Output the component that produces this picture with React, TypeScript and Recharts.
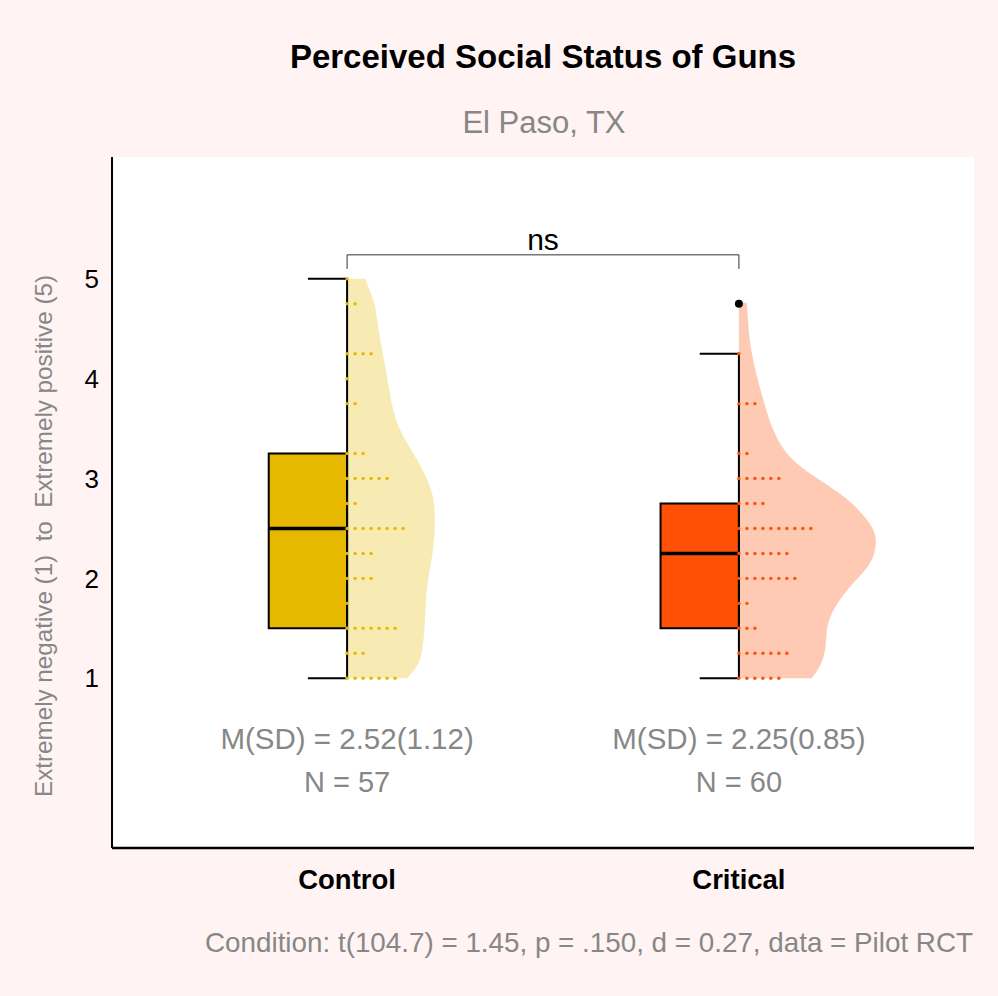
import React from 'react';
import {
  ComposedChart,
  Area,
  Scatter,
  XAxis,
  YAxis,
  CartesianGrid,
  ReferenceArea,
  ReferenceLine,
  ReferenceDot,
} from 'recharts';

const CATEGORIES = ['Control', 'Critical'];
const COLORS = ['#E6B800', '#FF5005'];
const Y_TICKS = [1, 2, 3, 4, 5];

// box plot stats per condition
const MINS = [1, 1];
const Q1S = [1.5, 1.5];
const MEDIANS = [2.5, 2.25];
const Q3S = [3.25, 2.75];
const MAXS = [5, 4.25];
const OUTLIERS = [[], [4.75]];

const MEANS = [2.52, 2.25];
const SDS = [1.12, 0.85];
const NS = [57, 60];

// dot plot: number of answers at each step of the scale
const LEVELS = [1, 1.25, 1.5, 1.75, 2, 2.25, 2.5, 2.75, 3, 3.25, 3.5, 3.75, 4, 4.25, 4.5, 4.75, 5];
const CONTROL_COUNTS = [7, 3, 7, 1, 4, 4, 8, 2, 6, 3, 0, 2, 1, 4, 0, 2, 1];
const CRITICAL_COUNTS = [6, 7, 3, 2, 8, 7, 10, 4, 6, 2, 0, 3, 0, 1, 0, 1, 0];

// half violin: width (x units) read at these heights
const VIOLIN_V = [1, 1.15, 1.35, 1.6, 1.9, 2.15, 2.4, 2.6, 2.85, 3.15, 3.45, 3.7, 3.95, 4.3, 4.6, 4.76, 5];
const CONTROL_WIDTH = [0.153, 0.182, 0.194, 0.199, 0.204, 0.214, 0.222, 0.224, 0.217, 0.184, 0.14, 0.117, 0.105, 0.089, 0.076, 0.069, 0.046];
const CRITICAL_WIDTH = [0.186, 0.21, 0.222, 0.232, 0.28, 0.334, 0.349, 0.324, 0.257, 0.148, 0.092, 0.069, 0.051, 0.031, 0.023, 0.02, null];

const DOT_STEP = 0.0204;
const GRAY = '#878787';

const violinData = VIOLIN_V.map((v, i) => ({
  v,
  control: CONTROL_WIDTH[i] == null ? null : [1, 1 + CONTROL_WIDTH[i]],
  critical: CRITICAL_WIDTH[i] == null ? null : [2, 2 + (CRITICAL_WIDTH[i] as number)],
}));

const buildDots = (counts: number[], pos: number) => {
  const out: { x: number; v: number }[] = [];
  counts.forEach((n, i) => {
    for (let k = 0; k < n; k++) out.push({ x: pos + k * DOT_STEP, v: LEVELS[i] });
  });
  return out;
};

const controlDots = buildDots(CONTROL_COUNTS, 1);
const criticalDots = buildDots(CRITICAL_COUNTS, 2);

const dotShape = (color: string) => (props: any) => (
  <circle cx={props.cx} cy={props.cy} r={1.7} fill={color} />
);

export default function App() {
  return (
    <div
      style={{
        position: 'relative',
        width: 998,
        height: 996,
        background: '#FFF4F3',
        fontFamily: '"Liberation Sans", Arial, Helvetica, sans-serif',
      }}
    >
      <style>{'body{margin:0}'}</style>
      <ComposedChart
        width={998}
        height={996}
        layout="vertical"
        data={violinData}
        margin={{ top: 157, right: 24, bottom: 98, left: 52 }}
      >
        <CartesianGrid fill="#fff" stroke="none" horizontal={false} vertical={false} />
        <XAxis
          type="number"
          dataKey="x"
          domain={[0.4, 2.6]}
          ticks={[1, 2]}
          allowDataOverflow
          tickFormatter={(t) => CATEGORIES[t - 1]}
          height={50}
          tickSize={0}
          tickMargin={21}
          tickLine={false}
          axisLine={{ stroke: '#000', strokeWidth: 2.5 }}
          tick={{ fill: '#000', fontSize: 27.5, fontWeight: 'bold' }}
        />
        <YAxis
          type="number"
          dataKey="v"
          domain={[-0.7, 6.22]}
          ticks={Y_TICKS}
          reversed
          allowDataOverflow
          width={60}
          tickSize={0}
          tickMargin={13}
          tickLine={false}
          axisLine={{ stroke: '#000', strokeWidth: 2 }}
          tick={{ fill: '#000', fontSize: 26 }}
        />

        <Area dataKey="control" type="natural" stroke="none" fill={COLORS[0]} fillOpacity={0.3} isAnimationActive={false} />
        <Area dataKey="critical" type="natural" stroke="none" fill={COLORS[1]} fillOpacity={0.3} isAnimationActive={false} />

        <Scatter data={controlDots} shape={dotShape(COLORS[0])} isAnimationActive={false} />
        <Scatter data={criticalDots} shape={dotShape(COLORS[1])} isAnimationActive={false} />

        {CATEGORIES.map((c, i) => {
          const pos = i + 1;
          return (
            <React.Fragment key={c}>
              <ReferenceArea
                x1={pos - 0.2}
                x2={pos}
                y1={Q1S[i]}
                y2={Q3S[i]}
                fill={COLORS[i]}
                fillOpacity={1}
                stroke="#000"
                strokeWidth={2}
              />
              <ReferenceLine segment={[{ x: pos, y: MINS[i] }, { x: pos, y: MAXS[i] }]} stroke="#000" strokeWidth={2} />
              <ReferenceLine segment={[{ x: pos - 0.1, y: MINS[i] }, { x: pos, y: MINS[i] }]} stroke="#000" strokeWidth={2} />
              <ReferenceLine segment={[{ x: pos - 0.1, y: MAXS[i] }, { x: pos, y: MAXS[i] }]} stroke="#000" strokeWidth={2} />
              <ReferenceLine segment={[{ x: pos - 0.2, y: MEDIANS[i] }, { x: pos, y: MEDIANS[i] }]} stroke="#000" strokeWidth={3.5} />
              {OUTLIERS[i].map((o) => (
                <ReferenceDot key={o} x={pos} y={o} r={4} fill="#000" stroke="none" />
              ))}
              <ReferenceDot
                x={pos}
                y={0.395}
                r={1}
                fill="none"
                stroke="none"
                label={{ value: `M(SD) = ${MEANS[i].toFixed(2)}(${SDS[i].toFixed(2)})`, position: 'center', fill: GRAY, fontSize: 29.5 }}
              />
              <ReferenceDot
                x={pos}
                y={-0.04}
                r={1}
                fill="none"
                stroke="none"
                label={{ value: `N = ${NS[i]}`, position: 'center', fill: GRAY, fontSize: 29 }}
              />
            </React.Fragment>
          );
        })}

        {/* significance bracket */}
        <ReferenceLine segment={[{ x: 1, y: 5.24 }, { x: 2, y: 5.24 }]} stroke="#333" strokeWidth={1} />
        <ReferenceLine segment={[{ x: 1, y: 5.1 }, { x: 1, y: 5.24 }]} stroke="#333" strokeWidth={1} />
        <ReferenceLine segment={[{ x: 2, y: 5.1 }, { x: 2, y: 5.24 }]} stroke="#333" strokeWidth={1} />
        <ReferenceDot
          x={1.5}
          y={5.4}
          r={1}
          fill="none"
          stroke="none"
          label={{ value: 'ns', position: 'center', fill: '#000', fontSize: 30 }}
        />
      </ComposedChart>

      <svg width={998} height={996} style={{ position: 'absolute', left: 0, top: 0, pointerEvents: 'none' }}>
        <text x={543} y={68} textAnchor="middle" fontSize={33} fontWeight="bold" fill="#000">
          Perceived Social Status of Guns
        </text>
        <text x={544} y={133} textAnchor="middle" fontSize={31} fill={GRAY}>
          El Paso, TX
        </text>
        <text
          transform="translate(52, 536) rotate(-90)"
          textAnchor="middle"
          fontSize={24}
          fill={GRAY}
          textLength={522}
          lengthAdjust="spacingAndGlyphs"
          style={{ whiteSpace: 'pre' }}
        >
          {'Extremely negative (1)  to  Extremely positive (5)'}
        </text>
        <text x={973} y={952} textAnchor="end" fontSize={27.8} fill={GRAY}>
          Condition: t(104.7) = 1.45, p = .150, d = 0.27, data = Pilot RCT
        </text>
      </svg>
    </div>
  );
}
